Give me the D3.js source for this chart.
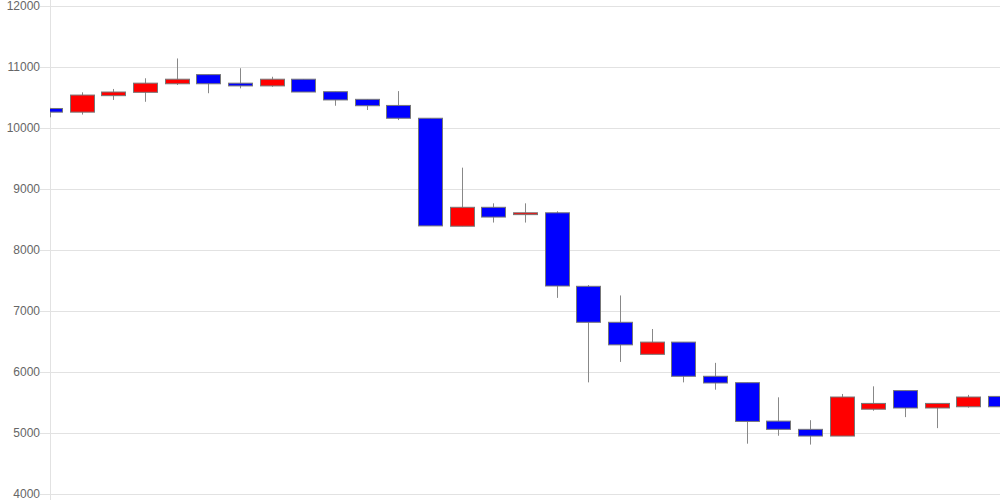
<!DOCTYPE html>
<html>
<head>
<meta charset="utf-8">
<script src="https://cdn.jsdelivr.net/npm/d3@7"></script>
<style>
  body { margin: 0; background: #fff; }
  text { font-family: "Liberation Sans", Arial, sans-serif; }
</style>
</head>
<body>
<div id="chart"></div>
<script>
// candle data
const days = d3.range(1, 32).map(String)
const opens  = [10320, 10260, 10530, 10585, 10725, 10875, 10735, 10690, 10800, 10595, 10470, 10370, 10160, 8390, 8700, 8580, 8610, 7405, 6815, 6290, 6490, 5930, 5825, 5195, 5060, 4950, 5390, 5695, 5410, 5430, 5600]
const closes = [10260, 10540, 10590, 10735, 10800, 10725, 10690, 10800, 10590, 10460, 10365, 10160, 8395, 8700, 8540, 8610, 7410, 6815, 6445, 6490, 5930, 5820, 5190, 5060, 4950, 5590, 5485, 5410, 5485, 5590, 5430]
const highs  = [10330, 10585, 10640, 10815, 11140, 10875, 10980, 10840, 10800, 10595, 10470, 10605, 10160, 9350, 8765, 8765, 8635, 7425, 7255, 6705, 6490, 6150, 5825, 5585, 5210, 5640, 5765, 5695, 5485, 5625, 5880]
const lows   = [10175, 10220, 10460, 10430, 10705, 10570, 10650, 10675, 10590, 10365, 10295, 10130, 8395, 8390, 8450, 8450, 7215, 5830, 6165, 6290, 5830, 5710, 4825, 4955, 4810, 4950, 5365, 5260, 5080, 5415, 5350]
const yTicks = [4000, 5000, 6000, 7000, 8000, 9000, 10000, 11000, 12000]

const width = 1000, height = 500
const plotLeft = 50, plotRight = 1000, plotTop = 6, plotBottom = 494

const candles = days.map((d, i) => ({
  day: d, open: opens[i], close: closes[i], high: highs[i], low: lows[i]
}))

const svg = d3.select('#chart')
  .append('svg')
  .attr('width', width)
  .attr('height', height)

const x = d3.scalePoint()
  .domain(days)
  .range([plotLeft, plotRight])

const y = d3.scaleLinear()
  .domain([4000, 12000])
  .range([plotBottom, plotTop])

const boxW = x.step() * 0.75

// grid + labels
const yAxis = svg.append('g')
  .attr('transform', `translate(${plotLeft},0)`)
  .call(d3.axisLeft(y).tickValues(yTicks).tickSize(-(plotRight - plotLeft)).tickPadding(10).tickFormat(d3.format('d')))

yAxis.select('.domain').remove()
yAxis.selectAll('.tick line')
  .attr('x1', -10)
  .attr('stroke', '#e2e2e2')
yAxis.selectAll('.tick text')
  .attr('fill', '#666')
  .style('font-size', '12px')

svg.append('line')
  .attr('x1', plotLeft + 0.5).attr('x2', plotLeft + 0.5)
  .attr('y1', 0).attr('y2', height)
  .attr('stroke', '#e2e2e2')

svg.append('clipPath')
  .attr('id', 'plot')
  .append('rect')
  .attr('x', plotLeft)
  .attr('y', 0)
  .attr('width', plotRight - plotLeft)
  .attr('height', height)

const g = svg.append('g').attr('clip-path', 'url(#plot)')

const candle = g.selectAll('g.candle')
  .data(candles)
  .enter()
  .append('g')
  .attr('class', 'candle')

candle.append('line')
  .attr('x1', d => Math.round(x(d.day)) + 0.5)
  .attr('x2', d => Math.round(x(d.day)) + 0.5)
  .attr('y1', d => y(d.high))
  .attr('y2', d => y(d.low))
  .attr('stroke', '#888')
  .attr('stroke-width', 1)

candle.append('rect')
  .attr('x', d => Math.round(x(d.day) - boxW / 2) + 0.5)
  .attr('y', d => y(Math.max(d.open, d.close)))
  .attr('width', Math.round(boxW))
  .attr('height', d => Math.max(1, y(Math.min(d.open, d.close)) - y(Math.max(d.open, d.close))))
  .attr('fill', d => d.close > d.open ? '#ff0000' : '#0000ff')
  .attr('stroke', '#777')
  .attr('stroke-width', 1)
</script>
</body>
</html>
